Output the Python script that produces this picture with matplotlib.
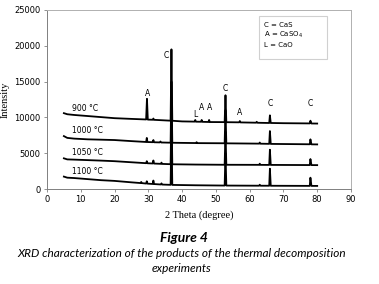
import matplotlib.pyplot as plt
from matplotlib.patches import Rectangle

# XRD patterns (2 theta, intensity)
x900 = [5, 6, 8, 12, 16, 20, 25, 29.35, 29.6, 29.85, 31.3, 31.5, 31.7, 36.6, 36.85, 37.1, 40, 43.7, 43.9, 44.1,
        45.6, 45.8, 46.0, 47.8, 48, 48.2, 52.6, 52.85, 53.1, 56.9, 57.1, 57.3, 61.9, 62.1, 62.3,
        65.8, 66, 66.25, 70, 77.8, 78, 78.3, 80]
y900 = [10600, 10450, 10350, 10200, 10050, 9900, 9800, 9720, 12600, 9700, 9680, 9850, 9670, 9550, 19500, 9540,
        9450, 9420, 9650, 9410, 9400, 9650, 9390, 9370, 9650, 9360, 9350, 13100, 9340, 9320, 9500, 9310,
        9270, 9400, 9260, 9230, 10300, 9230, 9200, 9170, 9550, 9160, 9150]

x1000 = [5, 6, 8, 12, 16, 20, 25, 29.35, 29.55, 29.75, 31.3, 31.5, 31.7, 33.4, 33.6, 33.8, 36.6, 36.85, 37.1,
         44.1, 44.3, 44.5, 52.6, 52.85, 53.1, 62.8, 63, 63.2, 65.8, 66, 66.25, 77.8, 78, 78.3, 80]
y1000 = [7400, 7150, 7050, 6950, 6900, 6850, 6700, 6580, 7150, 6570, 6550, 6850, 6540, 6520, 6650, 6510,
         6480, 15000, 6470, 6430, 6550, 6420, 6400, 11000, 6390, 6350, 6500, 6340, 6320, 8100, 6310,
         6260, 6950, 6250, 6240]

x1050 = [5, 6, 8, 12, 16, 20, 25, 29.35, 29.55, 29.75, 31.3, 31.5, 31.7, 33.7, 33.9, 34.1, 36.6, 36.85, 37.1,
         44, 52.6, 52.85, 53.1, 62.8, 63, 63.2, 65.8, 66, 66.25, 77.8, 78, 78.3, 80]
y1050 = [4300, 4150, 4120, 4050, 3980, 3900, 3750, 3620, 3900, 3610, 3580, 4000, 3570, 3530, 3700, 3520,
         3480, 12000, 3470, 3430, 3400, 8000, 3400, 3390, 3550, 3385, 3380, 5500, 3380, 3360, 4200, 3355, 3350]

x1100 = [5, 6, 8, 12, 16, 20, 25, 27.7, 27.9, 28.1, 29.35, 29.55, 29.75, 31.3, 31.5, 31.7, 33.7, 33.9, 34.1,
         36.6, 36.85, 37.1, 44, 52.6, 52.85, 53.1, 62.8, 63, 63.2, 65.8, 66, 66.25, 77.8, 78, 78.3, 80]
y1100 = [1750, 1600, 1550, 1400, 1250, 1150, 950, 850, 1000, 840, 780, 1100, 770, 720, 1200, 710, 650, 800, 640,
         600, 9000, 590, 540, 500, 5000, 500, 480, 620, 478, 475, 2850, 472, 455, 1600, 452, 450]

temp_labels = ['900 °C', '1000 °C', '1050 °C', '1100 °C']
temp_y = [11300, 8150, 5050, 2400]

peak_labels = ['A', 'C', 'L', 'A', 'A', 'C', 'A', 'C', 'C']
peak_x = [29.8, 35.4, 43.8, 45.8, 48.0, 52.7, 57.1, 66.0, 78.0]
peak_y = [13300, 18600, 10350, 11450, 11450, 14100, 10750, 11900, 11900]

legend_lines = ['C = CaS', 'A = CaSO$_4$', 'L = CaO']

fig = plt.figure(figsize=(3.79, 2.84), dpi=100)
ax = fig.add_axes([0.124, 0.334, 0.802, 0.631])

for xs, ys in [(x900, y900), (x1000, y1000), (x1050, y1050), (x1100, y1100)]:
    ax.plot(xs, ys, color='black', lw=1.3)

for t, ty in zip(temp_labels, temp_y):
    ax.text(7.3, ty, t, fontsize=5.5, ha='left', va='center')
for p, px, py in zip(peak_labels, peak_x, peak_y):
    ax.text(px, py, p, fontsize=5.5, ha='center', va='center')

# legend box (drawn as a text box like the original)
ax.add_patch(Rectangle((0.697, 0.726), 0.224, 0.24, transform=ax.transAxes,
                       fc='white', ec='#d0d0d0', lw=0.8, zorder=3))
for i, s in enumerate(legend_lines):
    ax.text(0.713, 0.916 - i * 0.057, s, transform=ax.transAxes, fontsize=5,
            va='center', ha='left', zorder=4)

ax.set_xlim(0, 90)
ax.set_ylim(0, 25000)
ax.set_xticks(range(0, 91, 10))
ax.set_yticks(range(0, 25001, 5000))
ax.tick_params(labelsize=6, length=2.5, width=0.6, color='#808080', pad=2)
for s in ['left', 'bottom']:
    ax.spines[s].set_color('#808080')
for s in ['top', 'right']:
    ax.spines[s].set_color('#b0b0b0')
for s in ax.spines.values():
    s.set_linewidth(0.7)

ax.set_xlabel('2 Theta (degree)', fontsize=7.5, family='Liberation Serif', labelpad=4)
ax.set_ylabel('Intensity', fontsize=7.5, family='Liberation Serif')
ax.yaxis.set_label_coords(-0.122, 0.5)

fig.text(0.485, 0.162, 'Figure 4', fontsize=10, fontweight='bold', style='italic', family='Lato',
         ha='center', va='center')
fig.text(0.48, 0.106, 'XRD characterization of the products of the thermal decomposition',
         fontsize=8.5, style='italic', family='Lato', ha='center', va='center')
fig.text(0.48, 0.053, 'experiments', fontsize=8.5, style='italic', family='Lato', ha='center', va='center')

fig.savefig('out.png', dpi=100)
